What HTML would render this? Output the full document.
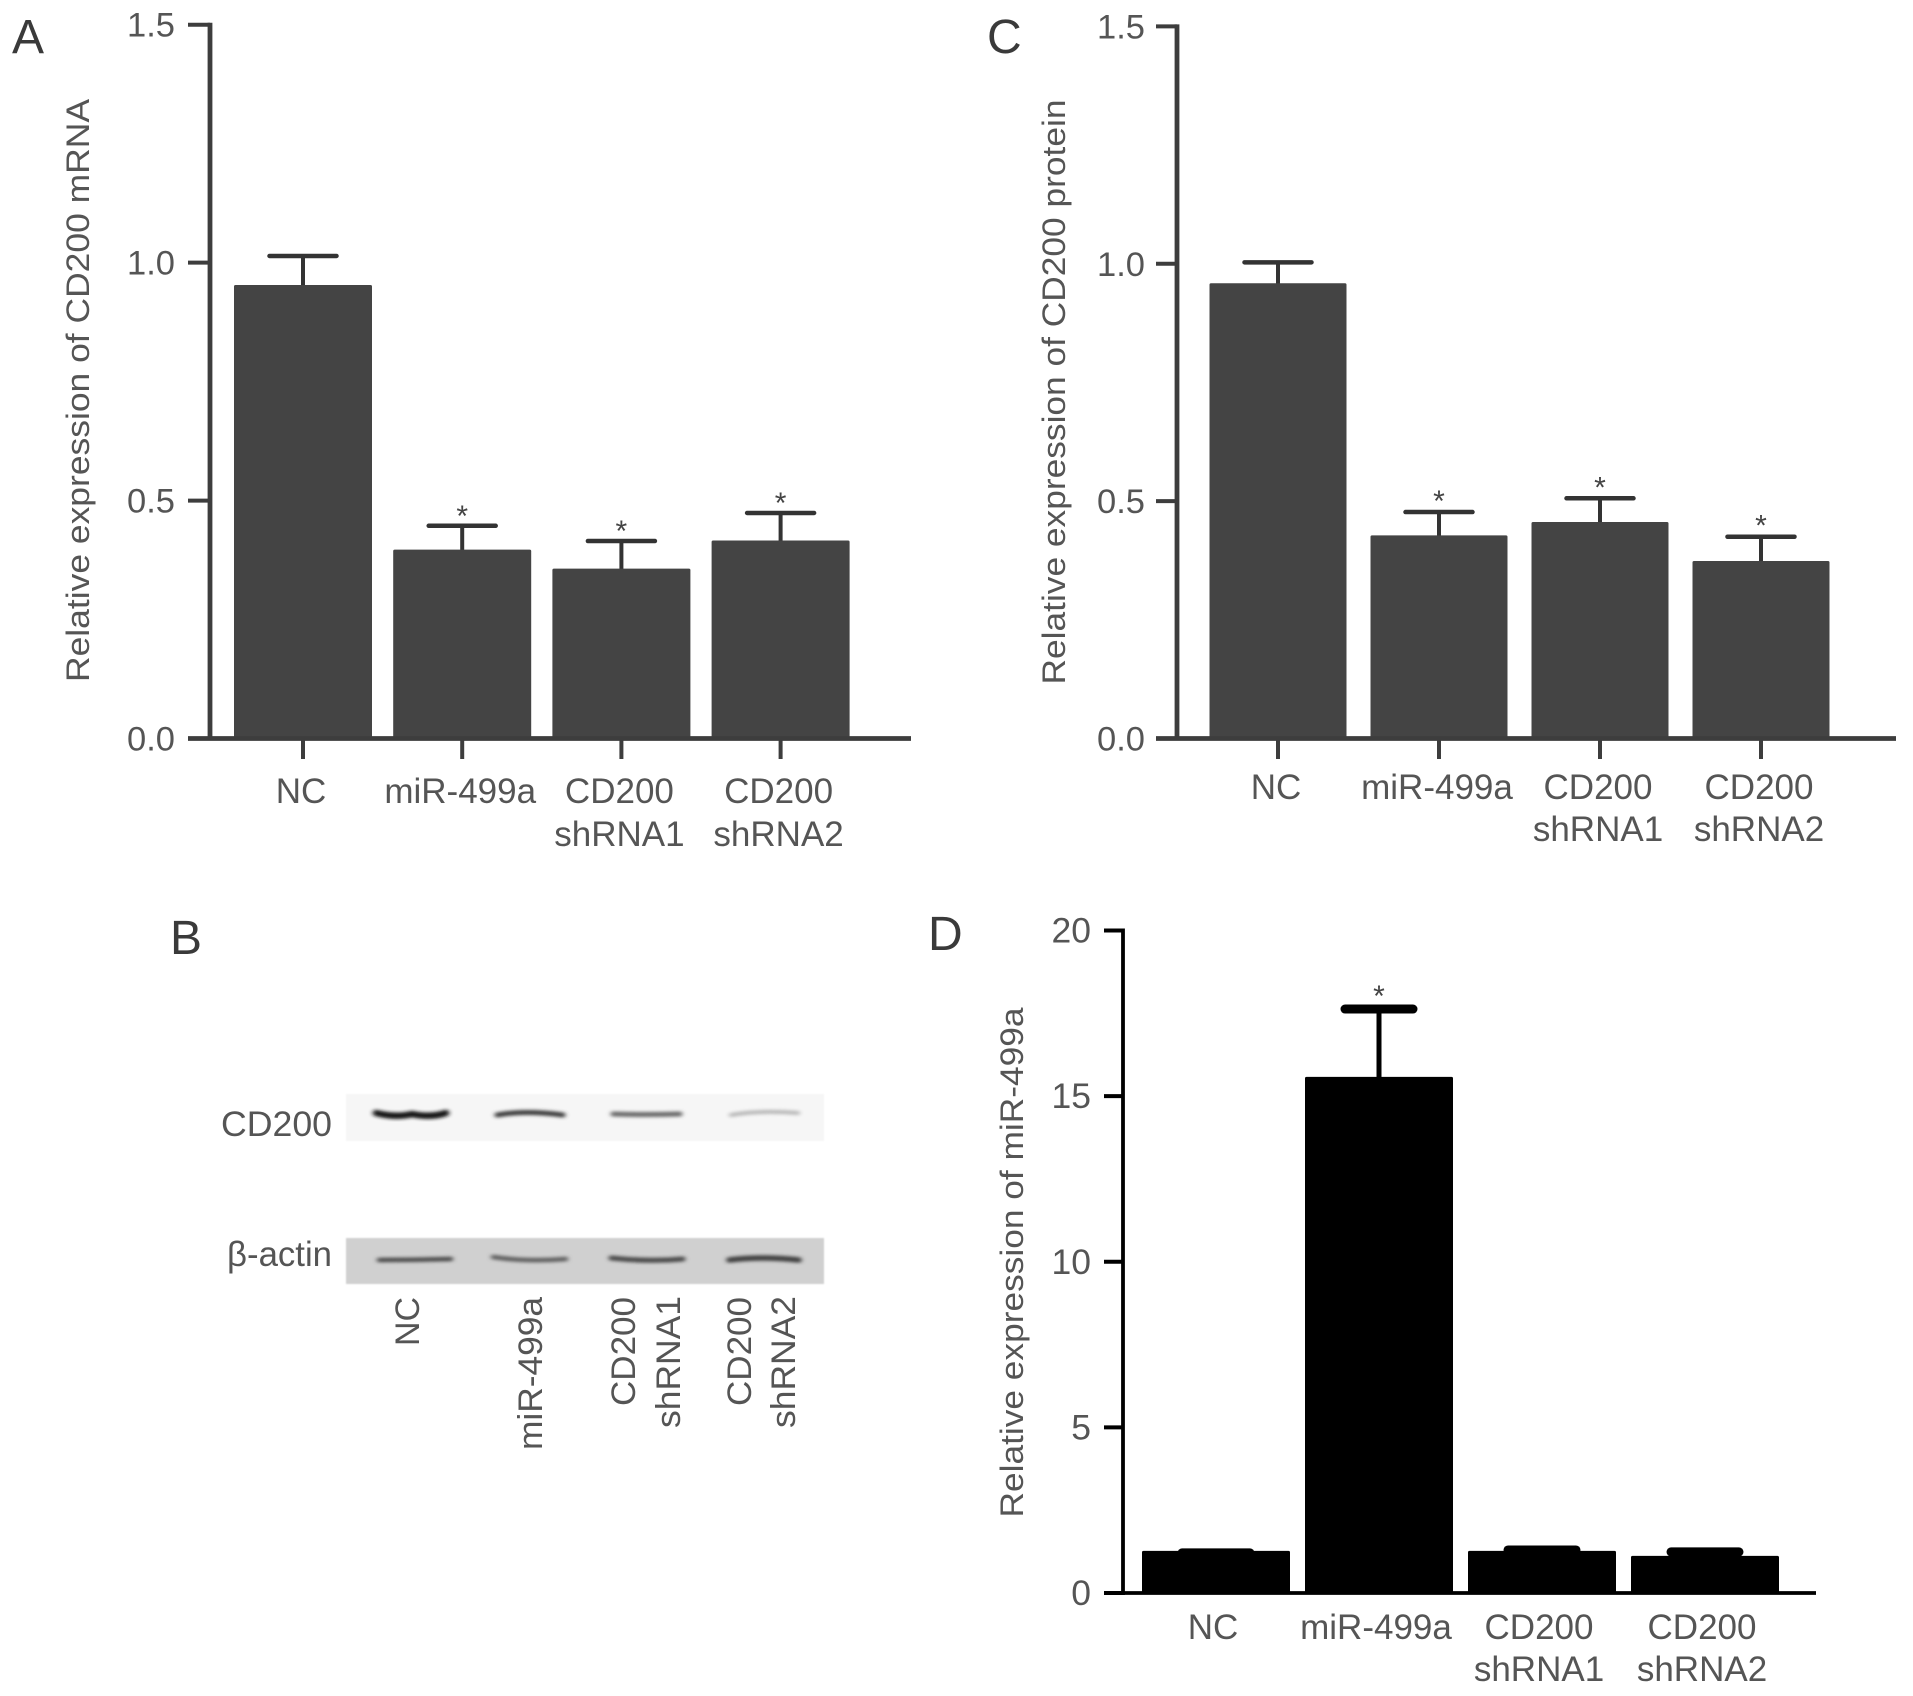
<!DOCTYPE html>
<html lang="en">
<head>
<meta charset="utf-8">
<title>CD200 and miR-499a expression</title>
<style>
html,body{margin:0;padding:0;background:#fff}
svg{display:block}
text{font-family:"Liberation Sans",sans-serif}
</style>
</head>
<body>
<svg id="figure" xmlns="http://www.w3.org/2000/svg" width="1913" height="1696" viewBox="0 0 1913 1696">
  <defs>
    <filter id="bandBlur" x="-20%" y="-150%" width="140%" height="400%"><feGaussianBlur stdDeviation="2.4 1.5"/></filter>
    <filter id="softBlur" x="-5%" y="-5%" width="110%" height="110%"><feGaussianBlur stdDeviation="0.8"/></filter>
  </defs>
  <rect width="1913" height="1696" fill="#fff"/>

  <text x="12" y="53" font-size="48" fill="#3a3a3a">A</text>
  <text x="987" y="53" font-size="48" fill="#3a3a3a">C</text>
  <text x="170" y="954" font-size="48" fill="#3a3a3a">B</text>
  <text x="928" y="950" font-size="48" fill="#3a3a3a">D</text>

  <g id="panel-a"></g>
  <g id="panel-c"></g>
  <g id="panel-d"></g>

  <g>
    <rect x="346" y="1094" width="478" height="47" fill="#f6f6f6" filter="url(#softBlur)"/>
    <rect x="346" y="1238" width="478" height="46" fill="#d0d0d0" filter="url(#softBlur)"/>
    <g filter="url(#bandBlur)" fill="none" stroke-linecap="round">
      <path d="M376 1113 Q396 1118 412 1114 Q430 1118 446 1113" stroke="#151515" stroke-width="6.5"/>
      <path d="M497 1115 Q525 1110 563 1115" stroke="#3c3c3c" stroke-width="5"/>
      <path d="M613 1114 Q645 1115 680 1114" stroke="#6a6a6a" stroke-width="5"/>
      <path d="M731 1115 Q760 1110 798 1113" stroke="#b8b8b8" stroke-width="4"/>
    </g>
    <g filter="url(#bandBlur)" fill="none" stroke-linecap="round">
      <path d="M379 1260 Q415 1260 451 1259" stroke="#4c4c4c" stroke-width="4.5"/>
      <path d="M493 1257 Q525 1262 566 1259" stroke="#5e5e5e" stroke-width="4.5"/>
      <path d="M611 1258 Q648 1262 683 1259" stroke="#4a4a4a" stroke-width="5"/>
      <path d="M729 1260 Q762 1256 799 1260" stroke="#3f3f3f" stroke-width="5.5"/>
    </g>
    <text x="332" y="1136" text-anchor="end" font-size="35" fill="#555" textLength="111" lengthAdjust="spacingAndGlyphs">CD200</text>
    <text x="332" y="1266" text-anchor="end" font-size="35" fill="#555" textLength="105" lengthAdjust="spacingAndGlyphs">β-actin</text>
    <text transform="translate(419 1346) rotate(-90)" font-size="34" fill="#555">NC</text>
    <text transform="translate(542 1450) rotate(-90)" font-size="34" fill="#555" textLength="153" lengthAdjust="spacingAndGlyphs">miR-499a</text>
    <text transform="translate(635 1406) rotate(-90)" font-size="34" fill="#555" textLength="109" lengthAdjust="spacingAndGlyphs">CD200</text>
    <text transform="translate(680 1428) rotate(-90)" font-size="34" fill="#555" textLength="132" lengthAdjust="spacingAndGlyphs">shRNA1</text>
    <text transform="translate(751 1406) rotate(-90)" font-size="34" fill="#555" textLength="109" lengthAdjust="spacingAndGlyphs">CD200</text>
    <text transform="translate(795 1428) rotate(-90)" font-size="34" fill="#555" textLength="132" lengthAdjust="spacingAndGlyphs">shRNA2</text>
  </g>
</svg>

<script>
/* Shared categories: first line, second line */
const categoryLine1 = ['NC', 'miR-499a', 'CD200', 'CD200'];
const categoryLine2 = ['', '', 'shRNA1', 'shRNA2'];

/* Panel A values */
const valuesA = [0.953, 0.397, 0.357, 0.416];
const errorTopsA = [1.014, 0.447, 0.415, 0.474];
const starsA = [false, true, true, true];
const tickValuesA = [0, 0.5, 1.0, 1.5];
const tickLabelsA = ['0.0', '0.5', '1.0', '1.5'];

/* Panel C values */
const valuesC = [0.959, 0.428, 0.456, 0.374];
const errorTopsC = [1.003, 0.477, 0.506, 0.425];
const starsC = [false, true, true, true];
const tickValuesC = [0, 0.5, 1.0, 1.5];
const tickLabelsC = ['0.0', '0.5', '1.0', '1.5'];

/* Panel D values */
const valuesD = [1.27, 15.58, 1.27, 1.12];
const errorTopsD = [1.21, 17.63, 1.30, 1.24];
const starsD = [false, true, false, false];
const tickValuesD = [0, 5, 10, 15, 20];
const tickLabelsD = ['0', '5', '10', '15', '20'];

const SVG_NS = 'http://www.w3.org/2000/svg';

function shape(parent, tag, attrs, content) {
  const el = document.createElementNS(SVG_NS, tag);
  for (const key in attrs) el.setAttribute(key, attrs[key]);
  if (content !== undefined) el.textContent = content;
  parent.appendChild(el);
  return el;
}

function drawPanel(p) {
  const root = document.getElementById(p.id);
  const yScale = v => p.yZero - (v / p.yMax) * (p.yZero - p.yTop);
  const xScale = i => p.xFirst + i * p.xStep;

  p.values.forEach((v, i) => {
    const cx = xScale(i);
    const top = yScale(v);
    const errY = yScale(p.errorTops[i]);

    const stem = shape(root, 'line', {x1: cx, x2: cx, y1: Math.max(top, errY) + 2, y2: errY, stroke: p.errColor, 'stroke-width': p.stemWidth});
    
    

    const bar = shape(root, 'rect', {x: cx - p.barWidth / 2, y: top, width: p.barWidth, height: p.yZero - top, fill: p.barColor, rx: 1.5});
    
    

    const cap = shape(root, 'line', {x1: cx - p.capWidth / 2, x2: cx + p.capWidth / 2, y1: errY, y2: errY, stroke: p.errColor, 'stroke-width': p.capThick, 'stroke-linecap': 'round'});
    
    

    if (p.stars[i]) {
      const star = shape(root, 'text', {x: cx, y: errY - p.starGap + 14, 'text-anchor': 'middle', 'font-size': 30, fill: '#444'}, '*');
      
      
    }

    if (p.bottomTickEnd) {
      const tick = shape(root, 'line', {x1: cx, x2: cx, y1: p.yZero, y2: p.bottomTickEnd, stroke: p.axisColor, 'stroke-width': 4});
      
      
    }

    const label1 = shape(root, 'text', {x: cx + p.labelShift, y: p.labelBase1, 'text-anchor': 'middle', 'font-size': p.labelSize, fill: '#555'}, categoryLine1[i]);
    
    

    if (categoryLine2[i]) {
      const label2 = shape(root, 'text', {x: cx + p.labelShift, y: p.labelBase2, 'text-anchor': 'middle', 'font-size': p.labelSize, fill: '#555'}, categoryLine2[i]);
      
      
    }
  });

  const yAxis = shape(root, 'line', {x1: p.xAxis, x2: p.xAxis, y1: p.yTop - 2, y2: p.yZero + 2, stroke: p.axisColor, 'stroke-width': p.axisWidth});
  
  

  const xAxis = shape(root, 'line', {x1: p.tickLeft, x2: p.xAxisEnd, y1: p.yZero, y2: p.yZero, stroke: p.axisColor, 'stroke-width': p.axisWidth});
  
  

  p.tickValues.forEach((t, i) => {
    const ty = yScale(t);
    const tick = shape(root, 'line', {x1: p.tickLeft, x2: p.xAxis, y1: ty, y2: ty, stroke: p.axisColor, 'stroke-width': 4});
    
    

    const label = shape(root, 'text', {x: p.tickTextRight, y: ty + p.tickTextDrop, 'text-anchor': 'end', 'font-size': p.tickSize, fill: '#555'}, p.tickLabels[i]);
    
    
  });

  const title = shape(root, 'text', {transform: 'translate(' + p.titleX + ' ' + p.titleY + ') rotate(-90)', 'text-anchor': 'middle', 'font-size': 32, fill: '#555', textLength: p.titleLength, lengthAdjust: 'spacingAndGlyphs'}, p.title);
  
  
}

drawPanel({
  id: 'panel-a', title: 'Relative expression of CD200 mRNA',
  values: valuesA, errorTops: errorTopsA, stars: starsA, tickValues: tickValuesA, tickLabels: tickLabelsA, yMax: 1.5,
  yZero: 738.5, yTop: 24.7, xAxis: 210, xAxisEnd: 911, tickLeft: 188, bottomTickEnd: 759,
  xFirst: 303, xStep: 159.2, barWidth: 138, capWidth: 67, capThick: 4.5, stemWidth: 4,
  barColor: '#444444', errColor: '#333333', axisColor: '#3d3d3d', axisWidth: 4.8, starGap: 14,
  labelShift: -2, labelBase1: 803, labelBase2: 846, labelSize: 35,
  tickTextRight: 175, tickTextDrop: 12, tickSize: 34.5,
  titleX: 89, titleY: 390.5, titleLength: 583
});

drawPanel({
  id: 'panel-c', title: 'Relative expression of CD200 protein',
  values: valuesC, errorTops: errorTopsC, stars: starsC, tickValues: tickValuesC, tickLabels: tickLabelsC, yMax: 1.5,
  yZero: 738.5, yTop: 26.4, xAxis: 1177, xAxisEnd: 1896, tickLeft: 1156, bottomTickEnd: 759,
  xFirst: 1278, xStep: 161, barWidth: 137, capWidth: 67, capThick: 4.5, stemWidth: 4,
  barColor: '#444444', errColor: '#333333', axisColor: '#3d3d3d', axisWidth: 4.8, starGap: 15,
  labelShift: -2, labelBase1: 799, labelBase2: 841, labelSize: 35,
  tickTextRight: 1145, tickTextDrop: 12, tickSize: 34.5,
  titleX: 1065, titleY: 392, titleLength: 585
});

drawPanel({
  id: 'panel-d', title: 'Relative expression of miR-499a',
  values: valuesD, errorTops: errorTopsD, stars: starsD, tickValues: tickValuesD, tickLabels: tickLabelsD, yMax: 20,
  yZero: 1593, yTop: 930.5, xAxis: 1123, xAxisEnd: 1816, tickLeft: 1104, bottomTickEnd: 0,
  xFirst: 1216, xStep: 163, barWidth: 148, capWidth: 68, capThick: 9, stemWidth: 5,
  barColor: '#000000', errColor: '#000000', axisColor: '#000000', axisWidth: 3.8, starGap: 17,
  labelShift: -3, labelBase1: 1639, labelBase2: 1681, labelSize: 35,
  tickTextRight: 1091, tickTextDrop: 12, tickSize: 35.5,
  titleX: 1023, titleY: 1262.5, titleLength: 510
});
</script>
</body>
</html>
